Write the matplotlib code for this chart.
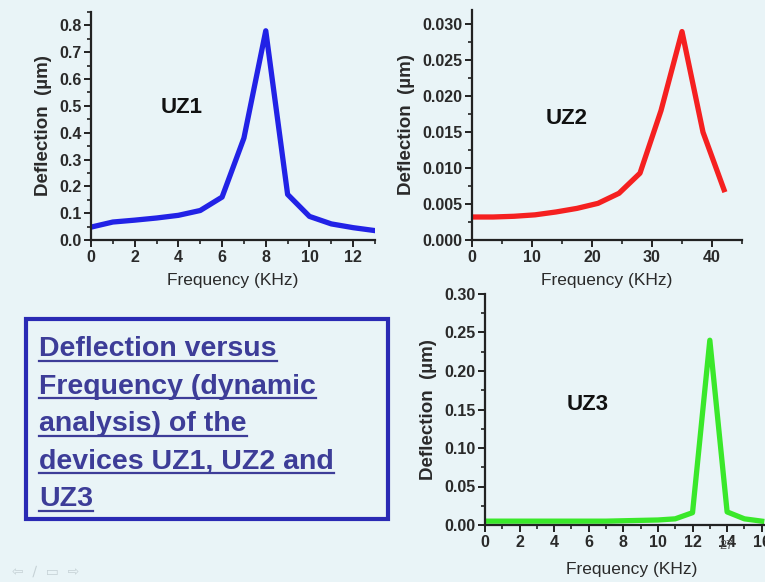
import numpy as np
import matplotlib.pyplot as plt
from matplotlib.ticker import MultipleLocator, FormatStrFormatter
from matplotlib.lines import Line2D
from matplotlib.patches import Rectangle

plt.rcParams['font.family'] = ['Liberation Sans', 'DejaVu Sans']

# UZ1
f1 = [0, 1, 2, 3, 4, 5, 6, 7, 8, 9, 10, 11, 12, 13]
d1 = [0.048, 0.067, 0.074, 0.082, 0.092, 0.11, 0.16, 0.38, 0.78, 0.17, 0.088, 0.06, 0.046, 0.035]
# UZ2
f2 = [0, 3.5, 7, 10.5, 14, 17.5, 21, 24.5, 28, 31.5, 35, 38.5, 42]
d2 = [0.0032, 0.0032, 0.0033, 0.0035, 0.0039, 0.0044, 0.0051, 0.0065, 0.0093, 0.018, 0.029, 0.015, 0.007]
# UZ3
f3 = [0, 1, 2, 3, 4, 5, 6, 7, 8, 9, 10, 11, 12, 13, 14, 15, 16]
d3 = [0.005, 0.005, 0.005, 0.005, 0.005, 0.005, 0.005, 0.005, 0.0055, 0.006, 0.0065, 0.008, 0.016, 0.24, 0.017, 0.008, 0.005]

box_lines = ["Deflection versus", "Frequency (dynamic", "analysis) of the",
             "devices UZ1, UZ2 and", "UZ3"]

bg = '#e9f4f7'
W, H = 765, 582
fig = plt.figure(figsize=(W / 100, H / 100), dpi=100, facecolor=bg)


def px_axes(left, right, bottom, top):
    return fig.add_axes([left / W, 1 - bottom / H, (right - left) / W, (bottom - top) / H])


def style(ax, xmaj, xmin, ymaj, ymin, yfmt):
    ax.set_facecolor('none')
    for s in ['top', 'right']:
        ax.spines[s].set_visible(False)
    for s in ['left', 'bottom']:
        ax.spines[s].set_linewidth(1.6)
        ax.spines[s].set_color('#222222')
    ax.xaxis.set_major_locator(MultipleLocator(xmaj))
    ax.xaxis.set_minor_locator(MultipleLocator(xmin))
    ax.yaxis.set_major_locator(MultipleLocator(ymaj))
    ax.yaxis.set_minor_locator(MultipleLocator(ymin))
    ax.yaxis.set_major_formatter(FormatStrFormatter(yfmt))
    ax.tick_params(which='major', length=5, width=1.4, color='#222222',
                   labelsize=11.5, labelcolor='#2a2a2a', pad=2)
    ax.tick_params(which='minor', length=3, width=1.2, color='#222222')
    for lab in ax.get_xticklabels() + ax.get_yticklabels():
        lab.set_fontweight('bold')


def labels(ax, name, nx, ny, xpad=6):
    ax.set_xlabel('Frequency (KHz)', fontsize=12.5, color='#2a2a2a', labelpad=xpad)
    ax.set_ylabel('Deflection  (\u00b5m)', fontsize=13.5, fontweight='bold',
                  color='#2a2a2a', labelpad=5)
    ax.text(nx, ny, name, transform=ax.transAxes, fontsize=16, fontweight='bold',
            ha='center', va='center', color='#111111')


# UZ1
ax1 = px_axes(91, 375, 240, 12)
ax1.plot(f1, d1, color='#2222e6', lw=3.8, solid_joinstyle='round')
ax1.set_xlim(0, 13)
ax1.set_ylim(0, 0.85)
style(ax1, 2, 1, 0.1, 0.05, '%.1f')
labels(ax1, 'UZ1', 0.32, 0.58)

# UZ2
ax2 = px_axes(472, 742, 240, 10)
ax2.plot(f2, d2, color='#f52020', lw=3.8, solid_joinstyle='round')
ax2.set_xlim(0, 45)
ax2.set_ylim(0, 0.032)
style(ax2, 10, 5, 0.005, 0.0025, '%.3f')
labels(ax2, 'UZ2', 0.35, 0.53)

# UZ3
ax3 = px_axes(485, 779, 525, 294)
ax3.plot(f3, d3, color='#3ae82a', lw=3.8, solid_joinstyle='round')
ax3.set_xlim(0, 17)
ax3.set_ylim(0, 0.30)
style(ax3, 2, 1, 0.05, 0.025, '%.2f')
labels(ax3, 'UZ3', 0.35, 0.52, xpad=9)

# caption box
fig.patches.append(Rectangle((26 / W, 1 - 519 / H), (388 - 26) / W, (519 - 319) / H,
                             transform=fig.transFigure, fill=False,
                             edgecolor='#2a2ab4', lw=3))
txt_color = '#3d3d98'
fig.canvas.draw()
renderer = fig.canvas.get_renderer()
for i, line in enumerate(box_lines):
    y = 1 - (356 + i * 37.5) / H
    t = fig.text(39 / W, y, line, fontsize=20.5, fontweight='bold', color=txt_color,
                 ha='left', va='baseline')
    bb = t.get_window_extent(renderer=renderer)
    uy = y - 4.5 / H
    fig.lines.append(Line2D([bb.x0 / W, bb.x1 / W], [uy, uy], transform=fig.transFigure,
                            color=txt_color, lw=1.6))

# slide furniture
fig.text(726 / W, 1 - 546 / H, '27', fontsize=9, color='#555555', ha='center', va='center')
fig.text(12 / W, 1 - 572 / H, '\u21e6  \u2215  \u25ad  \u21e8', fontsize=10,
         color='#c6d2d6', ha='left', va='center', family=['DejaVu Sans'])

fig.savefig('out.png', dpi=100, facecolor=bg)
